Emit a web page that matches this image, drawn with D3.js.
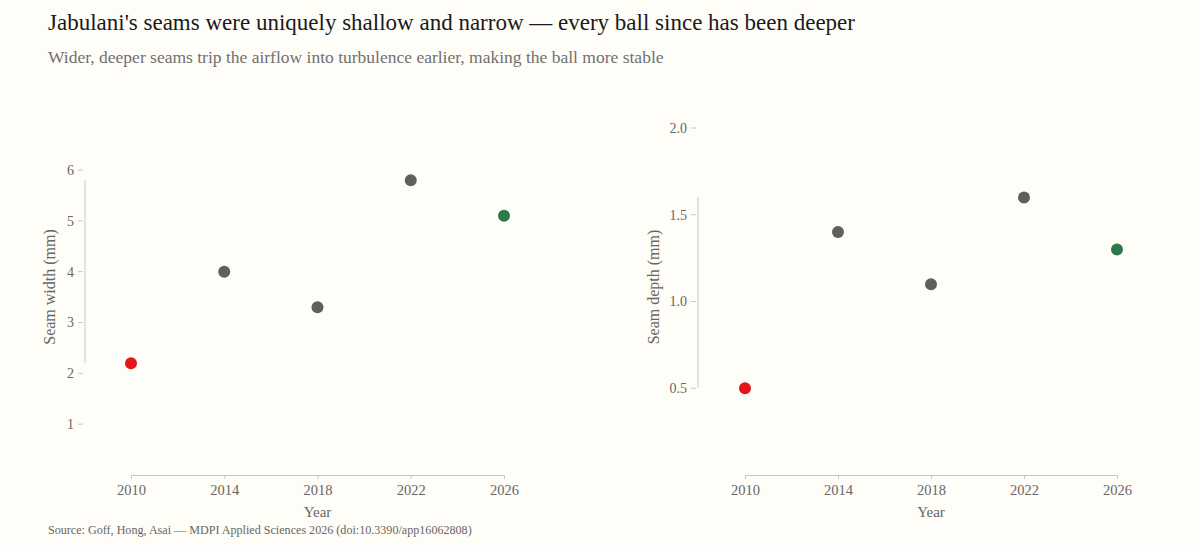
<!DOCTYPE html>
<html>
<head>
<meta charset="utf-8">
<script src="https://cdn.jsdelivr.net/npm/d3@7"></script>
<style>
  body { margin: 0; background: #fffdf7; }
  svg { display: block; font-family: "Liberation Serif", "DejaVu Serif", serif; }
</style>
</head>
<body>
<div id="chart"></div>
<script>
// Data
const years = [2010, 2014, 2018, 2022, 2026];
const balls = ["Jabulani", "Brazuca", "Telstar 18", "Al Rihla", "Trionda"];
const seamWidth = [2.2, 4.0, 3.3, 5.8, 5.1];
const seamDepth = [0.5, 1.4, 1.1, 1.6, 1.3];
const pointColors = ["#e3151b", "#5f5f5f", "#5f5f5f", "#5f5f5f", "#2a7a4b"];
const widthTicks = [1, 2, 3, 4, 5, 6];
const depthTicks = [0.5, 1.0, 1.5, 2.0];

const W = 1200, H = 545;
const svg = d3.select("#chart").append("svg").attr("width", W).attr("height", H);
svg.append("rect").attr("width", W).attr("height", H).attr("fill", "#fffdf7");

svg.append("text").attr("x", 48).attr("y", 30)
  .attr("font-size", 23).attr("fill", "#1a1a1a")
  .text("Jabulani's seams were uniquely shallow and narrow \u2014 every ball since has been deeper");
svg.append("text").attr("x", 48).attr("y", 63)
  .attr("font-size", 17.5).attr("fill", "#707070")
  .text("Wider, deeper seams trip the airflow into turbulence earlier, making the ball more stable");

svg.append("text").attr("x", 48).attr("y", 534)
  .attr("font-size", 12.1).attr("fill", "#666")
  .text("Source: Goff, Hong, Asai \u2014 MDPI Applied Sciences 2026 (doi:10.3390/app16062808)");

const axisColor = "#c8c8c8";
const labelColor = "#666";

function panel(opts) {
  const { values, ticks, yMax, yTop, axisX, labelX, x0, x1, label, fmt } = opts;
  const g = svg.append("g");
  const x = d3.scaleLinear().domain([2010, 2026]).range([x0, x1]);
  const y = d3.scaleLinear().domain([0, yMax]).range([475, yTop]);

  // range-frame y axis: line spans data extent only
  const ext = d3.extent(values);
  g.append("line")
    .attr("x1", axisX).attr("x2", axisX)
    .attr("y1", y(ext[0])).attr("y2", y(ext[1]))
    .attr("stroke", axisColor).attr("stroke-width", 1);
  const yt = g.selectAll(".ytick").data(ticks).join("g")
    .attr("transform", d => `translate(0,${y(d)})`);
  yt.append("line")
    .attr("x1", axisX - 7).attr("x2", axisX - 2)
    .attr("stroke", axisColor);
  yt.append("text")
    .attr("x", axisX - 11).attr("dy", "0.35em")
    .attr("text-anchor", "end").attr("font-size", 14).attr("fill", labelColor)
    .text(fmt);

  g.append("text")
    .attr("transform", `translate(${labelX},287) rotate(-90)`)
    .attr("text-anchor", "middle").attr("font-size", 16).attr("fill", labelColor)
    .text(label);

  // x axis
  const xa = g.append("g").attr("transform", "translate(0,475)")
    .call(d3.axisBottom(x).tickValues(years).tickFormat(d3.format("d")).tickSize(4).tickSizeOuter(0));
  xa.select(".domain").attr("stroke", axisColor);
  xa.selectAll(".tick line").attr("stroke", axisColor);
  xa.selectAll(".tick text").attr("font-size", 14.5).attr("fill", labelColor)
    .attr("font-family", "Liberation Serif, DejaVu Serif, serif").attr("dy", "0.9em");
  g.append("text")
    .attr("x", (x0 + x1) / 2).attr("y", 517)
    .attr("text-anchor", "middle").attr("font-size", 15).attr("fill", labelColor)
    .text("Year");

  g.selectAll("circle").data(values).join("circle")
    .attr("cx", (d, i) => x(years[i]))
    .attr("cy", d => y(d))
    .attr("r", 6)
    .attr("fill", (d, i) => pointColors[i]);
}

panel({ values: seamWidth, ticks: widthTicks, yMax: 6, yTop: 170, axisX: 85, labelX: 55,
  x0: 131, x1: 504, label: "Seam width (mm)", fmt: d3.format("d") });
panel({ values: seamDepth, ticks: depthTicks, yMax: 2.0, yTop: 128, axisX: 698, labelX: 659,
  x0: 745, x1: 1117, label: "Seam depth (mm)", fmt: d3.format(".1f") });
</script>
</body>
</html>
